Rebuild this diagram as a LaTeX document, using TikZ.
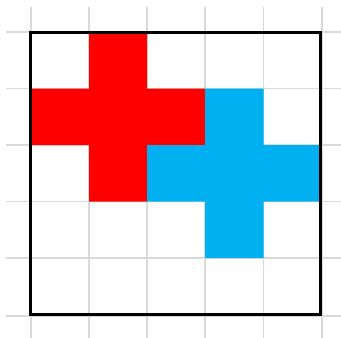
\documentclass[tikz,border=0pt]{standalone}
\definecolor{gridgray}{RGB}{217,217,217}
\definecolor{crossred}{RGB}{255,0,0}
\definecolor{crossblue}{RGB}{0,176,240}
\tikzset{gridline/.style={draw=gridgray,line width=1.6pt},
  redcell/.style={fill=crossred},
  bluecell/.style={fill=crossblue},
  frame/.style={draw=black,line width=3pt}}
\begin{document}
\begin{tikzpicture}[x=1pt,y=-1pt]
\useasboundingbox (0,0) rectangle (341,338);
\fill[white] (0,0) rectangle (341,338);
% grid
\foreach \gx in {31,89,147,205,263.5,322} \draw[gridline] (\gx,7) -- (\gx,338);
\foreach \gy in {32,88.5,145,201.5,258,316} \draw[gridline] (6,\gy) -- (341,\gy);
% red cross
\path[redcell] (89,32) -- (147,32) -- (147,88.5) -- (205,88.5) -- (205,145) -- (147,145) -- (147,201.5) -- (89,201.5) -- (89,145) -- (31,145) -- (31,88.5) -- (89,88.5) -- cycle;
% blue cross
\path[bluecell] (205,88.5) -- (263.5,88.5) -- (263.5,145) -- (320,145) -- (320,201.5) -- (263.5,201.5) -- (263.5,258) -- (205,258) -- (205,201.5) -- (147,201.5) -- (147,145) -- (205,145) -- cycle;
% frame
\draw[frame] (30,32) rectangle (320,314);
\end{tikzpicture}
\end{document}
